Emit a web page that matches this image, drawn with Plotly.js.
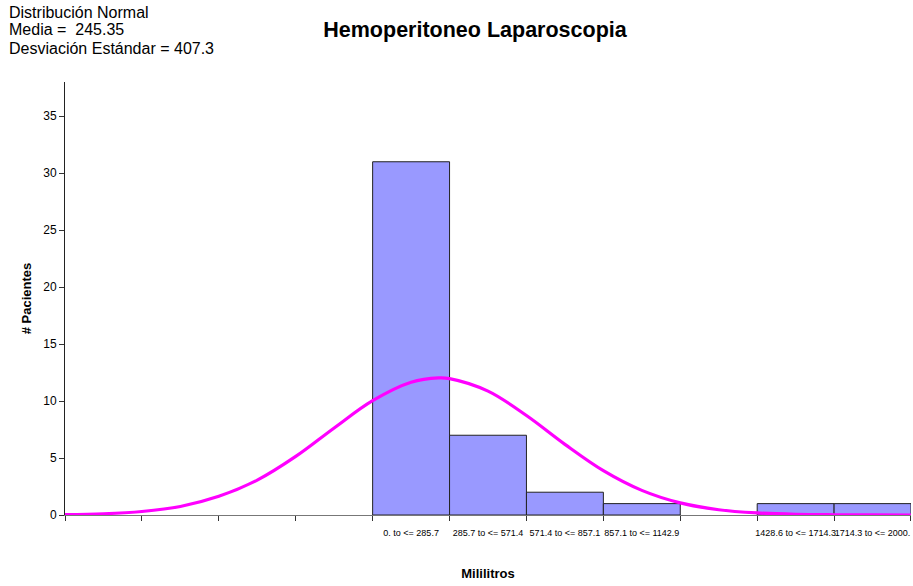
<!DOCTYPE html>
<html>
<head>
<meta charset="utf-8">
<script src="https://cdn.plot.ly/plotly-3.0.1.min.js"></script>
<style>html,body{margin:0;padding:0;background:#fff;}#chart{width:913px;height:586px;}</style>
</head>
<body>
<div id="chart"></div>
<script>
// Histogram bins (ml): centres of the bins that carry bars, labels, counts
const binCenters = [142.85, 428.55, 714.25, 1000, 1285.75, 1571.45, 1857.15];
const binLabels = ["0. to <= 285.7", "285.7 to <= 571.4", "571.4 to <= 857.1", "857.1 to <= 1142.9", "", "1428.6 to <= 1714.3", "1714.3 to <= 2000."];
const patients = [31, 7, 2, 1, 0, 1, 1];
const binWidth = 285.7;

// Normal curve (ml, patients)
const curveX = [-1142.9, -1000, -857.1, -714.3, -571.4, -428.6, -285.7, -142.9, 0, 142.9, 245.35, 285.7, 428.6, 571.4, 714.3, 857.1, 1000, 1142.9, 1285.7, 1428.6, 1571.4, 1714.3, 1857.1, 2000];
const curveY = [0.04, 0.11, 0.31, 0.75, 1.64, 3.06, 5.14, 7.64, 10.03, 11.65, 12.03, 11.97, 10.87, 8.73, 6.2, 3.89, 2.16, 1.06, 0.46, 0.18, 0.06, 0.02, 0.005, 0.001];

const infoLines = ["Distribución Normal", "Media =&nbsp; 245.35", "Desviación Estándar = 407.3"];

const xRange = [-1142.9, 2000];
const yRange = [0, 38];
const yTicks = [0, 5, 10, 15, 20, 25, 30, 35];

const font = "Arial, 'Liberation Sans', sans-serif";

const data = [
  {
    type: "bar",
    x: binCenters,
    y: patients,
    width: binWidth,
    marker: {color: "#9999FF", line: {color: "#222", width: patients.map(v => v > 0 ? 1 : 0)}},
    hoverinfo: "skip"
  },
  {
    type: "scatter",
    mode: "lines",
    x: curveX,
    y: curveY,
    line: {color: "#FF00FF", width: 3.2, shape: "spline", smoothing: 1},
    hoverinfo: "skip",
    cliponaxis: false
  }
];

const annotations = infoLines.map((t, i) => ({
  text: t,
  xref: "paper", yref: "paper",
  x: (7 - 65) / 846, y: (515 - (12 + 18 * i)) / 433,
  xanchor: "left", yanchor: "middle", align: "left",
  showarrow: false,
  font: {size: 16, family: font, color: "#000"}
}));

const layout = {
  width: 913,
  height: 586,
  margin: {l: 65, r: 2, t: 82, b: 71},
  paper_bgcolor: "#fff",
  plot_bgcolor: "#fff",
  showlegend: false,
  font: {family: font, color: "#000"},
  title: {
    text: "<b>Hemoperitoneo Laparoscopia</b>",
    font: {size: 21.5, family: font, color: "#000"},
    x: 475 / 913, xref: "container", xanchor: "center",
    y: 1 - 29 / 586, yref: "container", yanchor: "middle"
  },
  bargap: 0,
  xaxis: {
    range: xRange,
    tickmode: "array",
    tickvals: binCenters,
    ticktext: binLabels,
    ticks: "",
    tickangle: 0,
    ticklabelstandoff: 9,
    tickfont: {size: 9, family: font, color: "#000"},
    showgrid: false,
    zeroline: false,
    showline: true,
    linecolor: "#777",
    linewidth: 1,
    minor: {tickmode: "linear", tick0: xRange[0], dtick: binWidth, ticks: "outside", ticklen: 5, tickcolor: "#333", tickwidth: 1, showgrid: false},
    title: {text: "<b>Mililitros</b>", font: {size: 13, family: font, color: "#000"}, standoff: 32},
    fixedrange: true
  },
  yaxis: {
    range: yRange,
    tickmode: "array",
    tickvals: yTicks,
    ticks: "outside",
    ticklen: 5,
    tickcolor: "#333",
    tickfont: {size: 12, family: font, color: "#000"},
    showgrid: false,
    zeroline: false,
    showline: true,
    linecolor: "#222",
    linewidth: 1,
    title: {text: "<b># Pacientes</b>", font: {size: 13, family: font, color: "#000"}, standoff: 8},
    fixedrange: true
  },
  annotations: annotations
};

Plotly.newPlot("chart", data, layout, {staticPlot: true, displayModeBar: false});
</script>
</body>
</html>
